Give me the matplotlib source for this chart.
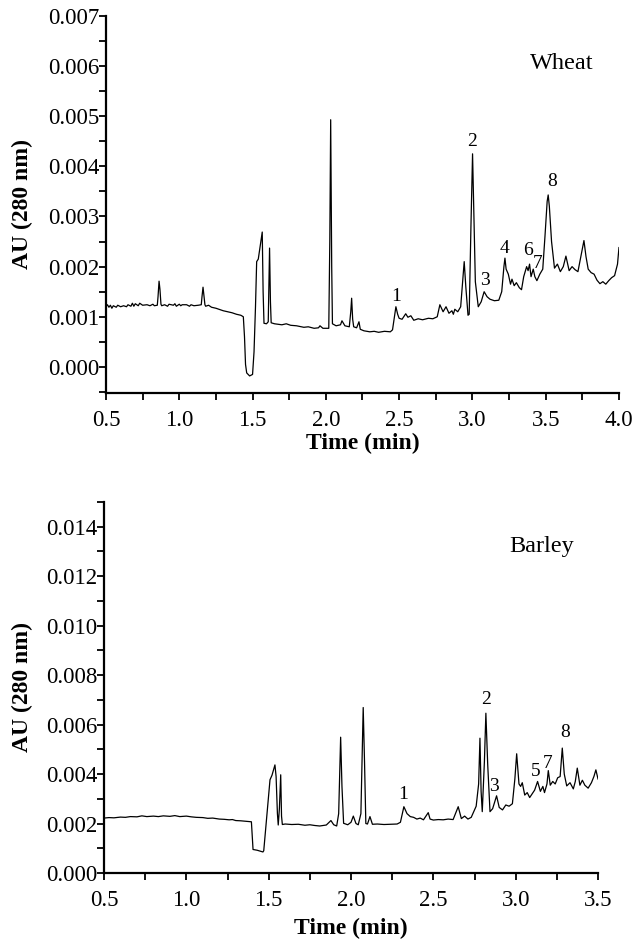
import numpy as np
import matplotlib
matplotlib.use("Agg")
import matplotlib.pyplot as plt

plt.rcParams['font.family'] = ['Liberation Serif', 'DejaVu Serif']

# wheat chromatogram (time in min, absorbance in mAU)
wheat_time = [0.50, 0.51, 0.52, 0.53, 0.54, 0.55, 0.57, 0.58, 0.60, 0.62, 0.64, 0.65, 0.67, 0.68,
              0.69, 0.70, 0.72, 0.73, 0.75, 0.78, 0.80, 0.82, 0.83, 0.85, 0.855, 0.862, 0.868,
              0.875, 0.88, 0.90, 0.92, 0.93, 0.96, 0.97, 0.98, 1.00, 1.01, 1.02, 1.05, 1.07, 1.08,
              1.10, 1.13, 1.15, 1.155, 1.162, 1.17, 1.175, 1.18, 1.20, 1.22, 1.25, 1.28,
              1.30, 1.33, 1.36, 1.39, 1.42, 1.437, 1.445, 1.452, 1.46, 1.48, 1.50, 1.51, 1.52, 1.528,
              1.539, 1.566, 1.572, 1.578, 1.595, 1.607, 1.616, 1.622, 1.627, 1.65, 1.70, 1.73, 1.76,
              1.80, 1.85, 1.88, 1.92, 1.95, 1.96, 1.98, 2.02, 2.027, 2.033, 2.040, 2.045, 2.07, 2.10,
              2.11, 2.13, 2.16, 2.17, 2.176, 2.183, 2.19, 2.21, 2.226, 2.235, 2.26, 2.30, 2.33, 2.36,
              2.40, 2.44, 2.455, 2.47, 2.478, 2.49, 2.50, 2.52, 2.545, 2.56, 2.58, 2.60, 2.63, 2.66,
              2.70, 2.73, 2.76, 2.778, 2.80, 2.82, 2.84, 2.86, 2.87, 2.88, 2.90, 2.92, 2.935, 2.944,
              2.955, 2.97, 2.978, 2.99, 3.001, 3.01, 3.02, 3.04, 3.06, 3.08, 3.10, 3.12, 3.15, 3.18,
              3.20, 3.215, 3.222, 3.23, 3.245, 3.26, 3.27, 3.285, 3.30, 3.32, 3.335, 3.35, 3.37, 3.38,
              3.39, 3.40, 3.415, 3.426, 3.44, 3.46, 3.48, 3.495, 3.51, 3.517, 3.525, 3.54, 3.56, 3.58,
              3.60, 3.62, 3.638, 3.65, 3.66, 3.68, 3.70, 3.72, 3.74, 3.761, 3.775, 3.79, 3.81, 3.83,
              3.85, 3.87, 3.89, 3.91, 3.93, 3.95, 3.97, 3.99, 4.00]
wheat_mau = [1.20, 1.24, 1.19, 1.23, 1.17, 1.22, 1.19, 1.23, 1.20, 1.22, 1.20, 1.24, 1.21, 1.27,
             1.21, 1.26, 1.22, 1.27, 1.23, 1.24, 1.22, 1.25, 1.22, 1.23, 1.40, 1.71, 1.55,
             1.25, 1.22, 1.24, 1.21, 1.25, 1.23, 1.26, 1.21, 1.25, 1.22, 1.24, 1.24, 1.21, 1.24,
             1.22, 1.23, 1.24, 1.40, 1.59, 1.38, 1.24, 1.21, 1.23, 1.19, 1.17, 1.14,
             1.12, 1.10, 1.08, 1.05, 1.03, 1.00, 0.60, 0.05, -0.12, -0.18, -0.15, 0.30, 1.20, 2.10,
             2.15, 2.69, 1.50, 0.87, 0.86, 0.90, 2.37, 1.30, 0.88, 0.86, 0.84, 0.86, 0.83,
             0.82, 0.79, 0.80, 0.77, 0.78, 0.82, 0.77, 0.77, 2.50, 4.93, 2.00, 0.86, 0.82, 0.84,
             0.92, 0.82, 0.80, 1.10, 1.37, 0.95, 0.80, 0.78, 0.90, 0.75, 0.72, 0.70, 0.71, 0.69,
             0.71, 0.70, 0.74, 1.05, 1.20, 1.05, 0.97, 0.95, 1.06, 0.99, 1.02, 0.93, 0.96, 0.94,
             0.97, 0.96, 1.00, 1.24, 1.10, 1.20, 1.07, 1.12, 1.05, 1.15, 1.10, 1.20, 1.75, 2.10,
             1.60, 1.03, 1.05, 2.80, 4.25, 3.00, 1.70, 1.20, 1.30, 1.50, 1.40, 1.35, 1.32, 1.33,
             1.50, 2.00, 2.17, 1.95, 1.85, 1.65, 1.75, 1.62, 1.68, 1.58, 1.54, 1.80, 2.00, 1.92,
             2.05, 1.80, 1.95, 1.80, 1.72, 1.85, 1.95, 2.60, 3.30, 3.43, 3.20, 2.50, 1.97, 2.05,
             1.90, 2.00, 2.21, 2.05, 1.92, 2.00, 1.94, 1.90, 2.20, 2.52, 2.20, 1.95, 1.88, 1.85,
             1.73, 1.66, 1.70, 1.65, 1.72, 1.78, 1.82, 2.05, 2.38]

# barley chromatogram (time in min, absorbance in mAU)
barley_time = [0.50, 0.53, 0.56, 0.60, 0.63, 0.66, 0.70, 0.73, 0.76, 0.80, 0.83, 0.86, 0.90, 0.93,
               0.96, 1.00, 1.03, 1.06, 1.10, 1.13, 1.16, 1.20, 1.23, 1.26, 1.28, 1.30, 1.33, 1.36,
               1.395, 1.40, 1.405, 1.43, 1.45, 1.465, 1.47, 1.49, 1.508, 1.52, 1.538, 1.545, 1.553,
               1.558, 1.565, 1.573, 1.578, 1.583, 1.60, 1.64, 1.68, 1.72, 1.75, 1.78, 1.81, 1.85,
               1.878, 1.895, 1.913, 1.925, 1.937, 1.945, 1.955, 1.98, 2.00, 2.014, 2.03, 2.044, 2.06,
               2.074, 2.082, 2.09, 2.10, 2.115, 2.13, 2.16, 2.20, 2.24, 2.28, 2.30, 2.321, 2.34, 2.36,
               2.38, 2.40, 2.42, 2.44, 2.469, 2.48, 2.50, 2.53, 2.56, 2.59, 2.62, 2.651, 2.67, 2.69,
               2.71, 2.73, 2.76, 2.775, 2.783, 2.79, 2.797, 2.81, 2.819, 2.83, 2.844, 2.86, 2.884,
               2.90, 2.92, 2.94, 2.96, 2.98, 2.995, 3.006, 3.02, 3.03, 3.04, 3.055, 3.07, 3.085, 3.10,
               3.115, 3.133, 3.15, 3.165, 3.175, 3.19, 3.198, 3.21, 3.225, 3.24, 3.255, 3.27, 3.283,
               3.295, 3.31, 3.33, 3.35, 3.362, 3.374, 3.39, 3.405, 3.42, 3.44, 3.46, 3.475, 3.487, 3.50]
barley_mau = [2.22, 2.24, 2.23, 2.26, 2.25, 2.28, 2.27, 2.31, 2.28, 2.30, 2.28, 2.31, 2.29, 2.32,
              2.28, 2.30, 2.27, 2.25, 2.24, 2.21, 2.22, 2.18, 2.17, 2.15, 2.16, 2.12, 2.11, 2.09,
              2.07, 1.50, 0.95, 0.92, 0.88, 0.85, 0.90, 2.40, 3.77, 3.95, 4.37, 3.90, 2.40,
              1.94, 2.60, 3.97, 2.30, 1.96, 1.98, 1.96, 1.97, 1.93, 1.95, 1.92, 1.90, 1.94,
              2.12, 1.95, 1.90, 2.40, 5.49, 3.50, 2.01, 1.95, 2.05, 2.30, 2.00, 1.95, 2.40,
              6.69, 4.50, 2.00, 1.98, 2.28, 1.97, 1.98, 1.96, 1.97, 1.98, 2.05, 2.68, 2.40, 2.28,
              2.25, 2.18, 2.22, 2.15, 2.44, 2.18, 2.14, 2.16, 2.15, 2.18, 2.16, 2.68, 2.20, 2.30,
              2.18, 2.25, 2.70, 3.60, 5.45, 3.30, 2.48, 4.50, 6.46, 4.40, 2.48, 2.60, 3.12,
              2.65, 2.55, 2.75, 2.70, 2.80, 3.80, 4.82, 3.60, 3.50, 3.65, 3.15, 3.25, 3.05, 3.20,
              3.35, 3.70, 3.30, 3.50, 3.25, 3.60, 4.14, 3.55, 3.70, 3.60, 3.85, 3.90, 5.05,
              4.00, 3.52, 3.65, 3.40, 3.70, 4.24, 3.55, 3.75, 3.55, 3.43, 3.65, 3.90, 4.17, 3.80]

# peak numbers: label, time, height of label (mAU)
wheat_peaks = ["1", "2", "3", "4", "6", "7", "8"]
wheat_peak_t = [2.478, 3.001, 3.085, 3.217, 3.381, 3.444, 3.545]
wheat_peak_y = [1.40, 4.49, 1.72, 2.37, 2.33, 2.07, 3.69]
barley_peaks = ["1", "2", "3", "5", "7", "8"]
barley_peak_t = [2.317, 2.819, 2.870, 3.119, 3.192, 3.299]
barley_peak_y = [3.16, 7.00, 3.49, 4.10, 4.44, 5.66]

TICK_FS = 16.5
LABEL_FS = 17
NAME_FS = 17.5
PEAK_FS = 14


def style_axes(ax, xmajor, ymajor, yminor):
    ax.spines["top"].set_visible(False)
    ax.spines["right"].set_visible(False)
    ax.spines["left"].set_linewidth(1.6)
    ax.spines["bottom"].set_linewidth(1.6)
    ax.set_xticks(xmajor)
    ax.set_xticks(np.arange(0.5, xmajor[-1] + 0.01, 0.25), minor=True)
    ax.set_yticks(ymajor)
    ax.set_yticks(yminor, minor=True)
    ax.xaxis.set_major_formatter(matplotlib.ticker.FormatStrFormatter("%.1f"))
    ax.yaxis.set_major_formatter(matplotlib.ticker.FormatStrFormatter("%.3f"))
    ax.tick_params(axis="both", which="both", direction="out", width=1.3, length=5)
    ax.tick_params(axis="y", which="major", pad=0, labelsize=TICK_FS)
    ax.tick_params(axis="x", which="major", pad=7, labelsize=TICK_FS)
    ax.set_xlabel("Time (min)", fontsize=LABEL_FS, fontweight="bold")
    ax.set_ylabel("AU (280 nm)", fontsize=LABEL_FS, fontweight="bold")


fig = plt.figure(figsize=(6.37, 9.39), dpi=100)

# wheat panel
ax1 = fig.add_axes([0.1664, 0.5815, 0.8053, 0.4015])
ax1.plot(wheat_time, np.array(wheat_mau) * 1e-3, color="black", lw=0.9)
ax1.set_xlim(0.5, 4.0)
ax1.set_ylim(-0.00052, 0.007)
style_axes(ax1, np.arange(0.5, 4.01, 0.5), np.arange(0, 0.0071, 0.001),
           np.arange(-0.0005, 0.0071, 0.0005))
ax1.xaxis.set_label_coords(0.5, -0.105)
ax1.yaxis.set_label_coords(-0.142, 0.5)
for lab, t, y in zip(wheat_peaks, wheat_peak_t, wheat_peak_y):
    ax1.text(t, y * 1e-3, lab, fontsize=PEAK_FS, ha="center", va="center")
ax1.text(3.608, 0.00606, "Wheat", fontsize=NAME_FS, ha="center", va="center")

# barley panel
ax2 = fig.add_axes([0.1633, 0.0703, 0.7755, 0.3951])
ax2.plot(barley_time, np.array(barley_mau) * 1e-3, color="black", lw=0.9)
ax2.set_xlim(0.5, 3.5)
ax2.set_ylim(0, 0.015)
style_axes(ax2, np.arange(0.5, 3.51, 0.5), np.arange(0, 0.0141, 0.002),
           np.arange(0, 0.0151, 0.001))
ax2.xaxis.set_label_coords(0.5, -0.12)
ax2.yaxis.set_label_coords(-0.144, 0.5)
for lab, t, y in zip(barley_peaks, barley_peak_t, barley_peak_y):
    ax2.text(t, y * 1e-3, lab, fontsize=PEAK_FS, ha="center", va="center")
ax2.text(3.157, 0.0132, "Barley", fontsize=NAME_FS, ha="center", va="center")

fig.savefig("out.png", dpi=100)
